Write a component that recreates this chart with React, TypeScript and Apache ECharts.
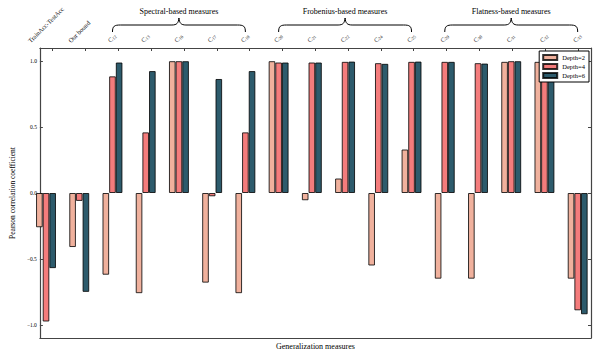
import React, { useEffect, useRef } from "react";
import * as echarts from "echarts";

const categories = [
  "TrainAcc-TestAcc", "Our bound",
  "C12", "C13", "C16", "C17", "C18",
  "C20", "C21", "C22", "C24", "C25",
  "C29", "C30", "C31", "C32", "C33",
];
const seriesNames = ["Depth=2", "Depth=4", "Depth=6"];
const depth2 = [-0.26, -0.41, -0.62, -0.76, 1.0, -0.68, -0.76, 1.0, -0.055, 0.11, -0.55, 0.33, -0.65, -0.65, 0.995, 0.995, -0.65];
const depth4 = [-0.975, -0.06, 0.885, 0.46, 1.0, -0.025, 0.46, 0.99, 0.99, 0.995, 0.985, 0.995, 0.995, 0.985, 1.0, 0.99, -0.89];
const depth6 = [-0.57, -0.75, 0.99, 0.925, 1.0, 0.865, 0.925, 0.99, 0.99, 0.997, 0.98, 0.997, 0.995, 0.982, 1.0, 0.99, -0.92];
const yTicks = [-1, -0.5, 0, 0.5, 1];
const braceGroups = [
  { label: "Spectral-based measures", from: 2, to: 6 },
  { label: "Frobenius-based measures", from: 7, to: 11 },
  { label: "Flatness-based measures", from: 12, to: 16 },
];

const FONT = "Liberation Serif";
const colors = ["#f0b19d", "#f47c7c", "#2d5b6c"];

// layout
const WIDTH = 598;
const HEIGHT = 357;
const FRAME_L = 33;
const FRAME_R = 591;
const TOP = 48;
const BOTTOM = 19;
const BAR_GRID_L = 29.4;
const BAR_GRID_R = 3.7;
const LABEL_SIZE = 6.5;
const SUB_SIZE = 4.5;

export default function App() {
  const ref = useRef<HTMLDivElement>(null);
  useEffect(() => {
    document.body.style.margin = "0";
    const chart = echarts.init(ref.current!, null, { renderer: "svg" });
    const band = (WIDTH - BAR_GRID_L - BAR_GRID_R) / categories.length;
    const c0 = BAR_GRID_L + band / 2;
    const fMin = (FRAME_L - c0) / band;
    const fMax = (FRAME_R - c0) / band;
    const xIdx = categories.map((_, i) => i);
    const axisLineStyle = { color: "#444", width: 1.2 };
    const option: any = {
      animation: false,
      textStyle: { fontFamily: FONT },
      grid: [
        { left: BAR_GRID_L, right: BAR_GRID_R, top: TOP, bottom: BOTTOM, containLabel: false },
        { left: FRAME_L, right: WIDTH - FRAME_R, top: TOP, bottom: BOTTOM, containLabel: false },
      ],
      legend: {
        data: seriesNames,
        orient: "vertical",
        right: 9,
        top: 51,
        icon: "rect",
        itemWidth: 14,
        itemHeight: 5,
        itemGap: 2,
        padding: [3, 4, 3, 3],
        backgroundColor: "#fff",
        borderColor: "#000",
        borderWidth: 1,
        borderRadius: 0,
        textStyle: { fontSize: 6.5, fontFamily: FONT, color: "#000", lineHeight: 7 },
      },
      xAxis: [
        {
          type: "category", gridIndex: 0, data: categories, boundaryGap: true,
          axisLine: { show: false }, axisTick: { show: false }, axisLabel: { show: false },
          splitLine: { show: false },
        },
        {
          type: "value", gridIndex: 1, position: "bottom", min: fMin, max: fMax,
          name: "Generalization measures", nameLocation: "middle", nameGap: 4,
          nameTextStyle: { fontSize: 8, color: "#000", fontFamily: FONT, verticalAlign: "top" },
          axisLine: { show: true, onZero: false, lineStyle: axisLineStyle },
          axisTick: { show: false },
          axisLabel: { show: false },
          splitLine: { show: false },
        },
        {
          type: "value", gridIndex: 1, position: "top", min: fMin, max: fMax,
          axisLine: { show: true, onZero: false, lineStyle: axisLineStyle },
          axisTick: { show: true, inside: true, length: 3, customValues: xIdx, lineStyle: { color: "#444" } },
          axisLabel: { show: false },
          splitLine: { show: false },
        },
      ],
      yAxis: [
        {
          type: "value", gridIndex: 0, min: -1.1, max: 1.1,
          axisLine: { show: false }, axisTick: { show: false }, axisLabel: { show: false },
          splitLine: { show: false },
        },
        {
          type: "value", gridIndex: 1, position: "left", min: -1.1, max: 1.1,
          name: "Pearson correlation coefficient", nameLocation: "middle", nameGap: 17,
          nameTextStyle: { fontSize: 7.5, color: "#000", fontFamily: FONT },
          axisLine: { show: true, onZero: false, lineStyle: axisLineStyle },
          axisTick: { show: true, inside: true, length: 3, customValues: yTicks, lineStyle: { color: "#444" } },
          axisLabel: {
            show: true, customValues: yTicks, fontSize: 5.5, color: "#000", margin: 3, fontFamily: FONT,
            formatter: (v: number) => (v < 0 ? "\u2212" : "") + Math.abs(v).toFixed(1),
          },
          splitLine: { show: false },
        },
        {
          type: "value", gridIndex: 1, position: "right", min: -1.1, max: 1.1,
          axisLine: { show: true, onZero: false, lineStyle: axisLineStyle },
          axisTick: { show: true, inside: true, length: 3, customValues: yTicks, lineStyle: { color: "#444" } },
          axisLabel: { show: false },
          splitLine: { show: false },
        },
      ],
      series: [depth2, depth4, depth6].map((d, k) => ({
        name: seriesNames[k],
        type: "bar",
        xAxisIndex: 0,
        yAxisIndex: 0,
        barWidth: 6.65,
        barGap: "0%",
        itemStyle: { color: colors[k], borderColor: "rgba(0,0,0,0.8)", borderWidth: 1 },
        data: d,
      })),
    };
    chart.setOption(option);

    // decorations placed through the axes' scales
    const px = (i: number) => chart.convertToPixel({ xAxisIndex: 0 }, i) as number;
    const axisTop = chart.convertToPixel({ yAxisIndex: 0 }, 1.1) as number;
    const canvas = document.createElement("canvas");
    const ctx = canvas.getContext("2d")!;
    const measure = (t: string, size: number) => {
      ctx.font = `${size}px "${FONT}"`;
      return ctx.measureText(t).width;
    };
    const graphics: any[] = [];
    const c45 = Math.SQRT1_2;
    categories.forEach((cat, i) => {
      const m = /^C(\d+)$/.exec(cat);
      let w: number, style: any;
      const h = LABEL_SIZE;
      if (m) {
        w = measure("C", LABEL_SIZE) + measure(m[1], SUB_SIZE);
        style = {
          text: `{c|C}{s|${m[1]}}`,
          rich: {
            c: { fontSize: LABEL_SIZE, fontFamily: FONT, fill: "#111" },
            s: { fontSize: SUB_SIZE, fontFamily: FONT, fill: "#111", padding: [3, 0, 0, 0] },
          },
        };
      } else {
        w = measure(cat, LABEL_SIZE);
        style = { text: cat, fontSize: LABEL_SIZE, fontFamily: FONT, fill: "#111" };
      }
      const cx = px(i);
      const blx = cx - (w * c45 - h * c45) / 2;
      const bly = axisTop - 4;
      graphics.push({
        type: "text",
        x: blx,
        y: bly,
        rotation: Math.PI / 4,
        style: { ...style, x: 0, y: 0, align: "left", verticalAlign: "bottom" },
      });
    });
    const stroke = { stroke: "#000", lineWidth: 1, fill: null };
    braceGroups.forEach((g) => {
      const a = px(g.from);
      const b = px(g.to);
      const mid = (a + b) / 2;
      const yEnd = axisTop - 16;
      const yH = axisTop - 23;
      const yP = axisTop - 30;
      graphics.push(
        { type: "bezierCurve", shape: { x1: a, y1: yEnd, cpx1: a, cpy1: yH + 1, cpx2: a + 2, cpy2: yH, x2: a + 8, y2: yH }, style: stroke },
        { type: "line", shape: { x1: a + 8, y1: yH, x2: mid - 7, y2: yH }, style: stroke },
        { type: "bezierCurve", shape: { x1: mid - 7, y1: yH, cpx1: mid - 2, cpy1: yH, cpx2: mid - 0.5, cpy2: yH - 2, x2: mid, y2: yP }, style: stroke },
        { type: "bezierCurve", shape: { x1: mid, y1: yP, cpx1: mid + 0.5, cpy1: yH - 2, cpx2: mid + 2, cpy2: yH, x2: mid + 7, y2: yH }, style: stroke },
        { type: "line", shape: { x1: mid + 7, y1: yH, x2: b - 8, y2: yH }, style: stroke },
        { type: "bezierCurve", shape: { x1: b - 8, y1: yH, cpx1: b - 2, cpy1: yH, cpx2: b, cpy2: yH + 1, x2: b, y2: yEnd }, style: stroke },
        {
          type: "text",
          x: mid,
          y: axisTop - 37,
          style: { text: g.label, fontSize: 8, fontFamily: FONT, fill: "#000", align: "center", verticalAlign: "middle" },
        }
      );
    });
    chart.setOption({ graphic: graphics });
    return () => chart.dispose();
  }, []);
  return <div ref={ref} style={{ width: WIDTH, height: HEIGHT }} />;
}
